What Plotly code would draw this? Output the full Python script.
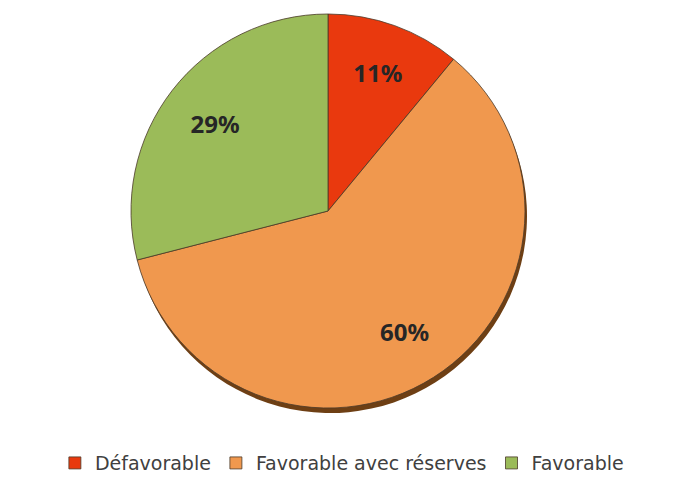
import plotly.graph_objects as go

labels = ["Défavorable", "Favorable avec réserves", "Favorable"]
values = [11, 60, 29]
colors = ["#E9390E", "#F0984E", "#9BBB59"]
shadow_color = "#6E3F14"

W, H = 677, 484
# pie placement in pixels
cx, cy, r = 328, 211, 197

def dom_x(off=0):
    return [(cx - r + off) / W, (cx + r + off) / W]

def dom_y(off=0):
    return [(H - (cy + r + off)) / H, (H - (cy - r + off)) / H]

fig = go.Figure()

# shadow
fig.add_trace(go.Pie(
    labels=labels, values=values, sort=False, direction="clockwise", rotation=0,
    marker=dict(colors=[shadow_color] * 3, line=dict(width=0)),
    textinfo="none", hoverinfo="skip", showlegend=False,
    domain=dict(x=dom_x(2), y=dom_y(5)),
))

# main pie
fig.add_trace(go.Pie(
    labels=labels, values=values, sort=False, direction="clockwise", rotation=0,
    marker=dict(colors=colors, line=dict(color="#4a3a2a", width=0.8)),
    textinfo="none",
    domain=dict(x=dom_x(), y=dom_y()),
))

# transparent overlay used only to place the percentage labels further out
fig.add_trace(go.Pie(
    labels=labels, values=values, sort=False, direction="clockwise", rotation=0,
    hole=0.45,
    marker=dict(colors=["rgba(0,0,0,0)"] * 3, line=dict(width=0)),
    texttemplate="%{percent:.0%}",
    textposition="inside", insidetextorientation="horizontal",
    textfont=dict(family="Noto Sans", size=24, color="#262626", weight="bold"),
    hoverinfo="skip", showlegend=False,
    domain=dict(x=dom_x(), y=dom_y()),
))

fig.update_layout(
    width=W, height=H,
    margin=dict(l=0, r=0, t=0, b=0, autoexpand=False),
    paper_bgcolor="white", plot_bgcolor="white",
    showlegend=True,
    legend=dict(
        orientation="h", x=0.505, y=0.004, xanchor="center", yanchor="bottom",
        font=dict(family="DejaVu Sans", size=19, color="#404040"),
        itemwidth=30, traceorder="normal",
    ),
    uniformtext=dict(minsize=10, mode="show"),
)

fig.write_html("out.html", config={"displayModeBar": False},
               post_script="document.body.style.margin='0';")
